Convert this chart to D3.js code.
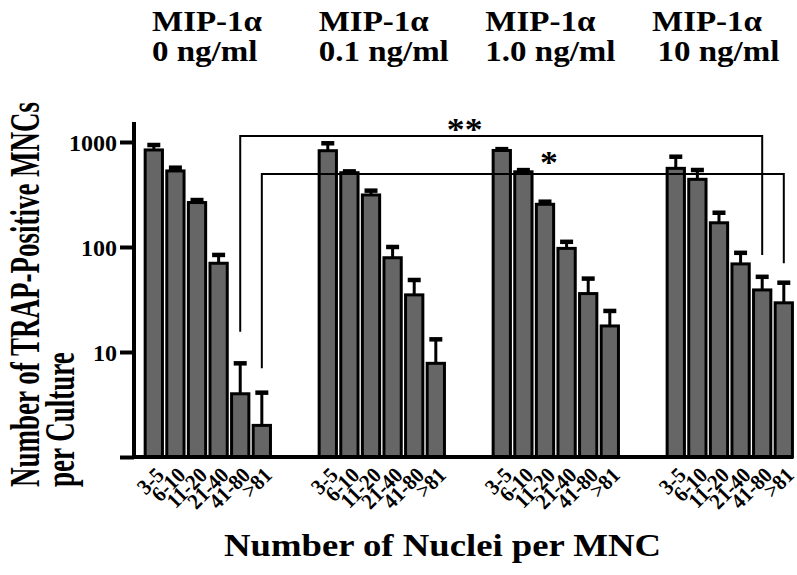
<!DOCTYPE html>
<html>
<head>
<meta charset="utf-8">
<script src="https://cdn.jsdelivr.net/npm/d3@7"></script>
<style>
  body { margin: 0; background: #fff; }
  text { font-family: 'Liberation Serif', 'Times New Roman', serif; font-weight: bold; fill: #000; }
</style>
</head>
<body>
<div id="chart"></div>
<script>
'use strict'

const groups = ['0 ng/ml', '0.1 ng/ml', '1.0 ng/ml', '10 ng/ml']
const titleLines = ['MIP-1α', 'MIP-1α', 'MIP-1α', 'MIP-1α']
const bins = ['3-5', '6-10', '11-20', '21-40', '41-80', '>81']

// mean counts per bin, one row per MIP-1a dose
const means = [
  [840, 530, 265, 70, 4.0, 2.0],
  [826, 510, 313, 79, 35, 7.8],
  [830, 520, 255, 97, 36, 17.7],
  [561, 441, 170, 69, 39, 29.4]
]
// top of the error bar (mean + sd)
const upper = [
  [936, 569, 280, 84, 7.8, 4.1],
  [972, 525, 344, 100, 48.5, 13.2],
  [855, 540, 270, 112, 50, 24.6],
  [724, 541, 212, 88, 52, 45.7]
]

const yTicks = [1, 10, 100, 1000]

// significance brackets: [group, bin] at each end, level of the bar, drop levels
const brackets = [
  { a: [0, 4], b: [3, 4], top: 1140, ends: [15.6, 84], mark: '**', markLevel: 1045, at: 0.43 },
  { a: [0, 5], b: [3, 5], top: 496, ends: [7.0, 70], mark: '*', markLevel: 507, at: 0.55 }
]

const width = 797,
  height = 575

const svg = d3.select('#chart').append('svg')
  .attr('width', width)
  .attr('height', height)

const y = d3.scaleLog()
  .domain([1, 1550])
  .range([457, 122])

const x0 = d3.scaleBand()
  .domain(groups)
  .range([143, 794.6])
  .paddingInner(0.255)
  .paddingOuter(0)

const x1 = d3.scaleBand()
  .domain(bins)
  .range([0, x0.bandwidth()])
  .paddingInner(0.2)
  .paddingOuter(0.1)

const cx = (gi, bi) => x0(groups[gi]) + x1(bins[bi]) + x1.bandwidth() / 2

// flat list of bars
const bars = []
groups.forEach((g, gi) => {
  bins.forEach((b, bi) => {
    bars.push({ g, b, gi, bi, v: means[gi][bi], hi: upper[gi][bi] })
  })
})

/*** Error bars (drawn first so the bar outline sits on top) ***/

const err = svg.append('g')
  .attr('stroke', '#000')

err.selectAll('.stem')
  .data(bars)
  .enter().append('line')
  .attr('class', 'stem')
  .attr('stroke-width', 3)
  .attr('x1', d => cx(d.gi, d.bi))
  .attr('x2', d => cx(d.gi, d.bi))
  .attr('y1', d => y(d.v))
  .attr('y2', d => y(d.hi))

err.selectAll('.cap')
  .data(bars)
  .enter().append('line')
  .attr('class', 'cap')
  .attr('stroke-width', 4.5)
  .attr('x1', d => cx(d.gi, d.bi) - 6.5)
  .attr('x2', d => cx(d.gi, d.bi) + 6.5)
  .attr('y1', d => y(d.hi))
  .attr('y2', d => y(d.hi))

/*** Bars ***/

svg.append('g')
  .selectAll('rect')
  .data(bars)
  .enter().append('rect')
  .attr('x', d => x0(d.g) + x1(d.b))
  .attr('y', d => y(d.v))
  .attr('width', x1.bandwidth())
  .attr('height', d => y(1) - y(d.v))
  .attr('fill', '#666')
  .attr('stroke', '#000')
  .attr('stroke-width', 3)

/*** Axes ***/

const yAxis = d3.axisLeft(y)
  .tickValues(yTicks)
  .tickFormat(d => d === 1 ? '' : d)
  .tickSize(14)
  .tickPadding(3)

const gY = svg.append('g')
  .attr('transform', 'translate(134,0)')
  .call(yAxis)

gY.select('.domain')
  .attr('d', `M0,${y.range()[1]}V${y(1)}`)
  .attr('stroke-width', 4)
gY.selectAll('.tick line').attr('stroke-width', 4)
gY.selectAll('.tick text')
  .attr('font-size', 24)
  .attr('font-family', null)
  .attr('dy', '0.34em')

svg.append('line')
  .attr('x1', 132)
  .attr('x2', 793)
  .attr('y1', y(1))
  .attr('y2', y(1))
  .attr('stroke', '#000')
  .attr('stroke-width', 4)

// category labels under every bar
svg.append('g')
  .selectAll('text')
  .data(bars)
  .enter().append('text')
  .attr('transform', d => `translate(${cx(d.gi, d.bi) + 6},471) rotate(-45) scale(1.08,1.15)`)
  .attr('text-anchor', 'end')
  .attr('font-size', 19)
  .attr('dy', '0.35em')
  .text(d => d.b)

/*** Significance brackets ***/

const br = svg.append('g')

br.selectAll('path')
  .data(brackets)
  .enter().append('path')
  .attr('fill', 'none')
  .attr('stroke', '#000')
  .attr('stroke-width', 2)
  .attr('d', d => {
    const xa = cx(d.a[0], d.a[1]),
      xb = cx(d.b[0], d.b[1])
    return `M${xa},${y(d.ends[0])}V${y(d.top)}H${xb}V${y(d.ends[1])}`
  })

br.selectAll('text')
  .data(brackets)
  .enter().append('text')
  .attr('transform', d => {
    const xa = cx(d.a[0], d.a[1]),
      xb = cx(d.b[0], d.b[1])
    return `translate(${xa + (xb - xa) * d.at},${y(d.markLevel)}) scale(1.15,1)`
  })
  .attr('text-anchor', 'middle')
  .attr('font-size', 31)
  .text(d => d.mark)

/*** Titles ***/

const xt = d3.scalePoint()
  .domain(groups)
  .range([152, 652])

const titles = svg.append('g')
  .selectAll('text')
  .data(groups)
  .enter().append('text')
  .attr('transform', d => `translate(${xt(d)},0) scale(1.1,1)`)
  .attr('font-size', 30)

titles.append('tspan')
  .attr('x', 0)
  .attr('y', 31)
  .text((d, i) => titleLines[i])

titles.append('tspan')
  .attr('x', (d, i) => i === 3 ? 5 : 0)
  .attr('y', 61)
  .text(d => d)

svg.append('text')
  .attr('x', 224)
  .attr('y', 556)
  .attr('font-size', 32)
  .attr('textLength', 437)
  .attr('lengthAdjust', 'spacingAndGlyphs')
  .text('Number of Nuclei per MNC')

const yTitle = ['Number of TRAP-Positive MNCs', 'per Culture']
svg.append('g')
  .selectAll('text')
  .data(yTitle)
  .enter().append('text')
  .attr('transform', (d, i) => `translate(${39 + i * 35},487) scale(1.55,1) rotate(-90)`)
  .attr('font-size', 27)
  .text(d => d)
</script>
</body>
</html>
